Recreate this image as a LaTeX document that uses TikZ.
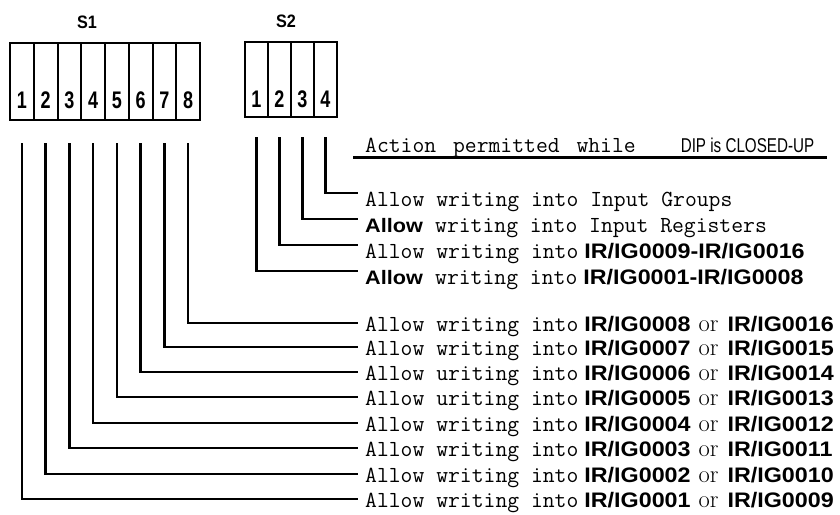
\documentclass[tikz,border=0pt]{standalone}
\usepackage{fontspec}
\newfontfamily\gsans[FakeStretch=1.11]{Liberation Sans}
\newfontfamily\hsans[FakeStretch=0.76]{Liberation Sans}
\newfontfamily\nsans[FakeStretch=0.75]{Liberation Sans}
\newfontfamily\lsans[FakeStretch=0.9]{Liberation Sans}
\newcommand\mono[1]{{\ttfamily\fontsize{23}{23}\selectfont #1}}
\newcommand\bsn[1]{{\gsans\bfseries\fontsize{21}{21}\selectfont #1}}
\newcommand\orw{\hspace{8pt}{\rmfamily\fontsize{24.5}{24.5}\selectfont or}\hspace{9pt}}
\newcommand\ballow{\makebox[70pt][l]{\gsans\bfseries\fontsize{19.5}{19.5}\selectfont Allow}}
\newcommand\intoir[2]{\mono{Allow writing into}\hspace{6pt}\bsn{#1}\orw\bsn{#2}}
\tikzset{
  cell/.style={draw, line width=2pt, minimum width=23.75pt, minimum height=77pt, inner sep=0pt},
  celltwo/.style={draw, line width=2pt, minimum width=23pt, minimum height=75pt, inner sep=0pt},
  digit/.style={inner sep=0pt, font=\nsans\bfseries\fontsize{24}{24}\selectfont},
  swname/.style={inner sep=0pt, font=\lsans\bfseries\fontsize{18}{18}\selectfont},
  rowtext/.style={anchor=west, inner xsep=7pt, inner ysep=0pt, text height=17pt, text depth=0pt},
  rowtexttwo/.style={anchor=west, inner xsep=7pt, inner ysep=0pt, text height=26pt, text depth=0pt},
  wire/.style={line width=2.5pt},
}
\begin{document}
\begin{tikzpicture}[x=1pt, y=-1pt]
\useasboundingbox (0,0) rectangle (840,514);
% S1 switch
\node[swname] (s1) at (87,22) {S1};
\foreach \i in {1,...,8} {
  \node[cell] (a\i) at ({10+23.75*(\i-0.5)},81.5) {};
  \node[digit] (da\i) at ([yshift=21pt]a\i.south) {\i};
}
% S2 switch
\node[swname] (s2) at (286,21) {S2};
\foreach \i in {1,...,4} {
  \node[celltwo] (b\i) at ({245+23*(\i-0.5)},79.5) {};
  \node[digit] (db\i) at ([yshift=18.5pt]b\i.south) {\i};
}
% header
\node[anchor=base west, inner sep=0pt] (hd) at (365,152)
  {\mono{Action\hspace{5pt} permitted\hspace{5pt} while}\hspace{45pt}{\hsans\fontsize{20}{20}\selectfont DIP is CLOSED-UP}};
\draw[line width=3pt] ([xshift=-12pt,yshift=-5pt]hd.base west) -- ++(474,0);
% S2 rows
\node[rowtexttwo] (t4) at (358,193) {\mono{Allow writing into Input Groups}};
\node[rowtexttwo] (t3) at (358,219) {\ballow\mono{writing into Input Registers}};
\node[rowtexttwo] (t2) at (358,245) {\mono{Allow writing into}\hspace{6pt}\bsn{IR/IG0009-IR/IG0016}};
\node[rowtexttwo] (t1) at (358,271) {\ballow\mono{writing into}\hspace{6pt}\bsn{IR/IG0001-IR/IG0008}};
% S1 rows
\node[rowtext] (r8) at (358,323) {\intoir{IR/IG0008}{IR/IG0016}};
\node[rowtext] (r7) at (358,347) {\intoir{IR/IG0007}{IR/IG0015}};
\node[rowtext] (r6) at (358,372) {\mono{Allow uriting into}\hspace{6pt}\bsn{IR/IG0006}\orw\bsn{IR/IG0014}};
\node[rowtext] (r5) at (358,397) {\mono{Allow uriting into}\hspace{6pt}\bsn{IR/IG0005}\orw\bsn{IR/IG0013}};
\node[rowtext] (r4) at (358,423) {\intoir{IR/IG0004}{IR/IG0012}};
\node[rowtext] (r3) at (358,448) {\intoir{IR/IG0003}{IR/IG0011}};
\node[rowtext] (r2) at (358,474) {\intoir{IR/IG0002}{IR/IG0010}};
\node[rowtext] (r1) at (358,499) {\intoir{IR/IG0001}{IR/IG0009}};
% connectors
\foreach \i in {1,...,8} {
  \draw[wire] ([yshift=-22pt]a\i.south) |- (r\i.west);
}
\foreach \i in {1,...,4} {
  \draw[wire] ([yshift=-19pt]b\i.south) |- (t\i.west);
}
\end{tikzpicture}
\end{document}
